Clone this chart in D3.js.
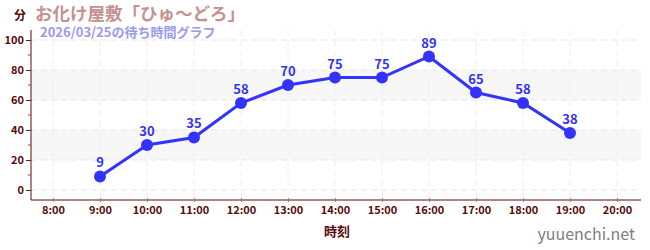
<!DOCTYPE html>
<html><head><meta charset="utf-8">
<script src="https://cdn.jsdelivr.net/npm/d3@7"></script>
<style>body{margin:0;background:#fff}svg{display:block}text{font-family:"Noto Sans CJK JP","Noto Sans",sans-serif}</style>
</head><body><svg id="c" width="650" height="250"></svg>
<script>
const hours = [9,10,11,12,13,14,15,16,17,18,19];
const waits = [9,30,35,58,70,75,75,89,65,58,38];
const xTicks = [8,9,10,11,12,13,14,15,16,17,18,19,20];
const yTicks = [0,20,40,60,80,100];
const yMinor = [10,30,50,70,90];
const bands = [[20,40],[60,80]];
const title = "お化け屋敷「ひゅ〜どろ」";
const subtitle = "2026/03/25の待ち時間グラフ";

const svg = d3.select("#c");
const L=31, R=641, T=30, B=200;
const x = d3.scaleLinear().domain([7.5,20.5]).range([L-1.5,R-0.5]);
const y = d3.scaleLinear().domain([-6.67,106.67]).range([B,T]);

svg.selectAll(".band").data(bands).join("rect")
  .attr("x",L).attr("width",R-L)
  .attr("y",d=>y(d[1])).attr("height",d=>y(d[0])-y(d[1]))
  .attr("fill","#f7f7f7");

svg.selectAll(".hg").data(yTicks).join("line")
  .attr("x1",L).attr("x2",R).attr("y1",d=>y(d)).attr("y2",d=>y(d))
  .attr("stroke","#e6e6e6").attr("stroke-dasharray","6,4");
svg.selectAll(".vg").data(xTicks).join("line")
  .attr("x1",d=>x(d)).attr("x2",d=>x(d)).attr("y1",T).attr("y2",B)
  .attr("stroke","#eeeeee").attr("stroke-dasharray","6,4");

// axes
const yAxis = svg.append("g").attr("transform",`translate(${L},0)`)
  .call(d3.axisLeft(y).tickValues(yTicks).tickSize(5).tickPadding(2));
yAxis.select(".domain").attr("stroke","#5a0a0a").attr("d",`M0,${T}V${B}`);
yAxis.selectAll(".tick line").attr("stroke","#333");
yAxis.selectAll(".tick text").attr("fill","#5a0a0a").attr("font-size",11).attr("font-weight","bold").attr("font-family","Noto Sans, sans-serif");
svg.append("g").attr("transform",`translate(${L},0)`).selectAll("line").data(yMinor).join("line")
  .attr("x1",-3).attr("x2",0).attr("y1",d=>y(d)).attr("y2",d=>y(d)).attr("stroke","#d03030");

const xAxis = svg.append("g").attr("transform",`translate(0,${B})`)
  .call(d3.axisBottom(x).tickValues(xTicks).tickFormat(d=>d+":00").tickSize(4).tickPadding(2).tickSizeOuter(0));
xAxis.select(".domain").attr("stroke","#5a0a0a").attr("d",`M${L},0H${R}`);
xAxis.selectAll(".tick line").attr("stroke","#888").attr("transform","translate(0,-2)");
xAxis.selectAll(".tick text").attr("fill","#5a0a0a").attr("font-size",11).attr("font-weight","bold").attr("font-family","Noto Sans, sans-serif");

// line
const pts = hours.map((h,i)=>[h,waits[i]]);
svg.append("path").datum(pts).attr("fill","none").attr("stroke","#3333ff").attr("stroke-width",3)
  .attr("d",d3.line().x(d=>x(d[0])).y(d=>y(d[1])));
svg.selectAll(".pt").data(pts).join("circle")
  .attr("cx",d=>x(d[0])).attr("cy",d=>y(d[1])).attr("r",6).attr("fill","#3333ff");
svg.selectAll(".lbl").data(pts).join("text")
  .attr("x",d=>x(d[0])).attr("y",d=>y(d[1])-9).attr("text-anchor","middle")
  .attr("fill","#3333ee").attr("font-size",13).attr("font-weight","bold").attr("font-family","Noto Sans, sans-serif")
  .text(d=>d[1]);

// texts
svg.append("text").attr("x",14).attr("y",20).attr("fill","#5a0a0a").attr("font-size",12).attr("font-weight","bold").text("分");
svg.append("text").attr("x",35).attr("y",20).attr("fill","#c49090").attr("font-size",17.5).attr("font-weight","bold").text(title);
svg.append("text").attr("x",40).attr("y",37).attr("fill","#9a9af0").attr("font-size",13).attr("font-weight","bold").text(subtitle);
svg.append("text").attr("x",337).attr("y",236).attr("text-anchor","middle").attr("fill","#5a0a0a").attr("font-size",13).attr("font-weight","bold").text("時刻");
svg.append("text").attr("x",635).attr("y",240).attr("text-anchor","end").attr("fill","#808080").attr("font-size",16).attr("font-family","Noto Sans, sans-serif").text("yuuenchi.net");
</script></body></html>
